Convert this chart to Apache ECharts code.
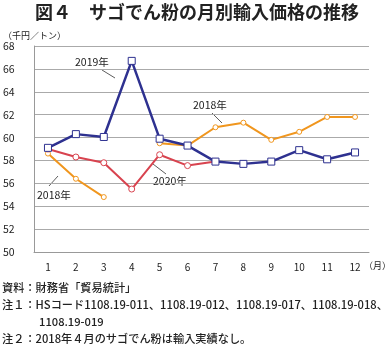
<!DOCTYPE html>
<html><head><meta charset="utf-8">
<script src="https://cdn.jsdelivr.net/npm/echarts@6/dist/echarts.min.js"></script>
<style>html,body{margin:0;padding:0;background:#fff}#c{width:388px;height:350px}</style>
</head><body><div id="c"></div>
<script>
const months = ['1','2','3','4','5','6','7','8','9','10','11','12'];
const y2018 = [58.6, 56.4, 54.8, null, 59.5, 59.3, 60.9, 61.3, 59.8, 60.5, 61.8, 61.8];
const y2019 = [59.1, 60.3, 60.05, 66.7, 59.9, 59.3, 57.9, 57.7, 57.9, 58.9, 58.1, 58.7];
const y2020 = [59.0, 58.3, 57.8, 55.5, 58.5, 57.55, 57.9, null, null, null, null, null];
const yTicks = [50, 68, 2];
const F = '"Noto Sans CJK JP", sans-serif';
const chart = echarts.init(document.getElementById('c'), null, {renderer:'canvas'});
const txt = (x,y,s,size,weight) => ({type:'text', left:x, top:y, style:{text:s, fill:'#222', font:(weight||'normal')+' '+size+'px '+F}});
const ln = (x1,y1,x2,y2) => ({type:'line', shape:{x1,y1,x2,y2}, style:{stroke:'#333', lineWidth:0.8}});
chart.setOption({
  animation:false,
  grid:{left:23, right:19, top:46, bottom:98},
  xAxis:{type:'category', data:months, boundaryGap:true,
    axisLine:{lineStyle:{color:'#999'}}, axisTick:{show:false},
    axisLabel:{color:'#222', fontFamily:F, fontSize:10, margin:10}},
  yAxis:{type:'value', min:yTicks[0], max:yTicks[1], interval:yTicks[2],
    axisLine:{show:true, lineStyle:{color:'#999'}}, axisTick:{show:false},
    splitLine:{lineStyle:{color:'#aaa'}},
    axisLabel:{color:'#222', fontFamily:F, fontSize:10.5, margin:9, align:'left', padding:[0,0,0,-22]}},
  series:[
    {name:'2018', type:'line', data:y2018, connectNulls:false, symbol:'circle', symbolSize:5,
      lineStyle:{color:'#f0961e', width:2}, itemStyle:{color:'#fff', borderColor:'#f0961e', borderWidth:1}, z:2},
    {name:'2020', type:'line', data:y2020, symbol:'circle', symbolSize:6,
      lineStyle:{color:'#d8434f', width:2}, itemStyle:{color:'#fff', borderColor:'#d8434f', borderWidth:1}, z:3},
    {name:'2019', type:'line', data:y2019, symbol:'rect', symbolSize:7,
      lineStyle:{color:'#2e3190', width:2.5}, itemStyle:{color:'#fff', borderColor:'#2e3190', borderWidth:1}, z:4}
  ],
  graphic:[
    txt(35, 3, '図４　サゴでん粉の月別輸入価格の推移', 18, 'bold'),
    txt(3, 31, '（千円／トン）', 9),
    txt(364, 261, '（月）', 9),
    txt(75, 57, '2019年', 10.5), ln(102,70,115,78),
    txt(193, 100, '2018年', 10.5), ln(212,113,222,123),
    txt(153, 176, '2020年', 10.5), ln(153,164,166,174),
    txt(37, 190, '2018年', 10.5), ln(49,186,58,176),
    txt(2, 282, '資料：財務省「貿易統計」', 11.2, '500'),
    txt(2, 299, '注１：HSコード1108.19-011、1108.19-012、1108.19-017、1108.19-018、', 11.2, '500'),
    txt(39, 316, '1108.19-019', 11.2, '500'),
    txt(2, 333, '注２：2018年４月のサゴでん粉は輸入実績なし。', 11.2, '500')
  ]
});
</script></body></html>
